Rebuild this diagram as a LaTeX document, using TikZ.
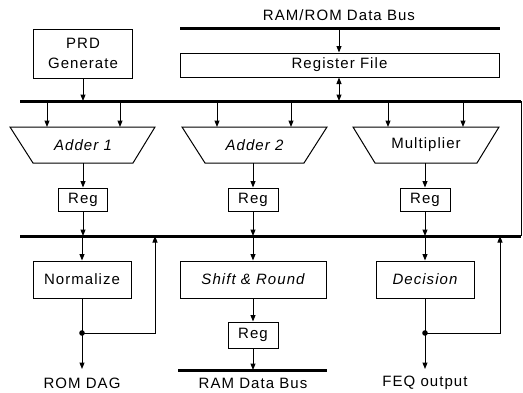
\documentclass[tikz,border=0pt]{standalone}
\usepackage{fontspec}
\setmainfont{Liberation Sans}[LetterSpace=7]
\usetikzlibrary{arrows.meta}
\begin{document}
\begin{tikzpicture}[x=1pt,y=-1pt,
  every node/.style={font=\fontsize{15}{20}\selectfont},
  box/.style={draw,line width=1pt,inner sep=0pt,align=center},
  bus/.style={line width=3pt},
  conn/.style={line width=1pt,-{Triangle[length=6.5pt,width=5pt]}},
  wire/.style={line width=1pt},
  alu/.style={draw,line width=1pt},
  lbl/.style={inner sep=0pt}]
\useasboundingbox (0,0) rectangle (523,392);
% buses
\draw[bus] (180,28) coordinate (tb1) -- (500,28) coordinate (tb2);
\draw[bus] (20,101) coordinate (mb1) -- (521,101) coordinate (mb2);
\draw[bus] (20,236) coordinate (lb1) -- (521,236) coordinate (lb2);
\draw[bus] (178,370) coordinate (rb1) -- (327,370) coordinate (rb2);
\draw[wire] (mb2) -- (lb2);
\node[lbl] (toplbl) at (339,15) {RAM/ROM Data Bus};
% boxes
\node[box,minimum width=99pt,minimum height=49pt] (prd) at (83,53.5) {PRD\\Generate};
\node[box,minimum width=319pt,minimum height=24pt] (regfile) at (339.5,65) {Register File};
% ALUs
\draw[alu] (10,127) -- (155,127) -- (133,163) -- (33,163) -- cycle;
\node[lbl] (add1) at (83,145) {\itshape Adder 1};
\draw[alu] (182,127) -- (327,127) -- (304,163) -- (205,163) -- cycle;
\node[lbl] (add2) at (254.5,145) {\itshape Adder 2};
\draw[alu] (353,127) -- (499,127) -- (477,163) -- (375,163) -- cycle;
\node[lbl] (mult) at (426,145) {Multiplier};
\node[box,minimum width=49pt,minimum height=23pt] (reg1) at (83,199.5) {Reg};
\node[box,minimum width=50pt,minimum height=23pt] (reg2) at (253,199.5) {Reg};
\node[box,minimum width=50pt,minimum height=23pt] (reg3) at (425,199.5) {Reg};
\node[box,minimum width=98pt,minimum height=37pt] (norm) at (82,279.5) {Normalize};
\node[box,minimum width=146pt,minimum height=37pt] (shift) at (253,279.5) {\itshape Shift \& Round};
\node[box,minimum width=50pt,minimum height=26pt] (reg4) at (253,335) {Reg};
\node[box,minimum width=98pt,minimum height=37pt] (dec) at (425,279.5) {\itshape Decision};
\node[lbl] (romdag) at (82,383) {ROM DAG};
\node[lbl] (ramdb) at (253,383) {RAM Data Bus};
\node[lbl] (feq) at (425,383) {FEQ output};
% connectors
\draw[conn] (339,28) -- (regfile.north -| 339,0);
\draw[line width=1pt,{Triangle[length=6.5pt,width=5pt]}-{Triangle[length=6.5pt,width=5pt]}] (regfile.south -| 339,0) -- (339,101);
\draw[conn] (prd.south) -- (83,101);
\draw[conn] (47,101) -- (47,127);
\draw[conn] (120,101) -- (120,127);
\draw[conn] (217,101) -- (217,127);
\draw[conn] (291,101) -- (291,127);
\draw[conn] (388,101) -- (388,127);
\draw[conn] (463,101) -- (463,127);
\draw[conn] (83,163) -- (reg1.north);
\draw[conn] (253,163) -- (reg2.north);
\draw[conn] (425,163) -- (reg3.north);
\draw[conn] (reg1.south) -- (83,236);
\draw[conn] (reg2.south) -- (253,236);
\draw[conn] (reg3.south) -- (425,236);
\draw[conn] (82,236) -- (norm.north);
\draw[conn] (253,236) -- (shift.north);
\draw[conn] (425,236) -- (dec.north);
\draw[conn] (shift.south) -- (reg4.north);
\draw[conn] (reg4.south) -- (253,370);
\coordinate (d1) at (82,333);
\coordinate (d2) at (425,333);
\draw[wire] (norm.south) -- (d1);
\draw[conn] (d1) -- (82,369);
\draw[conn] (d1) -- (155,333) -- (155,236);
\fill (d1) circle (2.8pt);
\draw[wire] (dec.south) -- (d2);
\draw[conn] (d2) -- (425,369);
\draw[conn] (d2) -- (500,333) -- (500,236);
\fill (d2) circle (2.8pt);
\end{tikzpicture}
\end{document}
